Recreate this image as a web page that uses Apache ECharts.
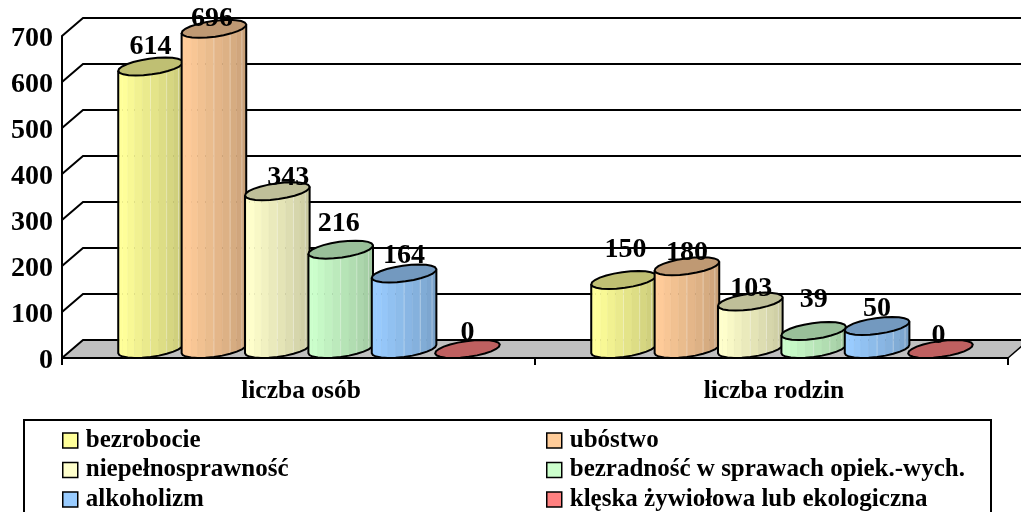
<!DOCTYPE html>
<html>
<head>
<meta charset="utf-8">
<style>html,body{margin:0;padding:0;background:#fff}#graph{width:1021px;height:512px}</style>
<script src="https://cdn.jsdelivr.net/npm/echarts@6/dist/echarts.min.js"></script>
</head>
<body>
<div id="graph"></div>
<script>
var categories = ['liczba osób', 'liczba rodzin'];
var yTicks = [0, 100, 200, 300, 400, 500, 600, 700];

var bezrobocie = [614, 150];
var ubostwo = [696, 180];
var niepelnosprawnosc = [343, 103];
var bezradnosc = [216, 39];
var alkoholizm = [164, 50];
var kleska = [0, 0];

var names = ['bezrobocie', 'ubóstwo', 'niepełnosprawność', 'bezradność w sprawach opiek.-wych.', 'alkoholizm', 'klęska żywiołowa lub ekologiczna'];
var values = [bezrobocie, ubostwo, niepelnosprawnosc, bezradnosc, alkoholizm, kleska];
var colors = ['#FFFF99', '#FFCC99', '#FFFFCC', '#CCFFCC', '#99CCFF', '#FF8080'];

// data labels were moved by hand in the original, so each one has its own nudge
var labelDx = [[0, 2], [-2, 0], [11, 1], [-2, 0], [0, 0], [0, -2]];
var labelDy = [[-21, -31], [-11, -14], [-14, -14], [-27, -32], [-19, -18], [-17, -14]];

var FONT = '"Liberation Serif", serif';
var DEPTH_X = 21, DEPTH_Y = 18;
var FACETS = 12;

function shade(hex, k) {
    var n = parseInt(hex.slice(1), 16);
    return 'rgb(' + Math.round((n >> 16 & 255) * k) + ',' + Math.round((n >> 8 & 255) * k) + ',' + Math.round((n & 255) * k) + ')';
}

function cylinder(i) {
    return function (params, api) {
        var cat = api.value(0), val = api.value(1);
        var band = api.size([1, 0])[0];
        var step = band * 0.134;
        var ux = band * 0.0605, vx = 15, vy = 9;
        var front = api.coord([cat, val]);
        var h = api.coord([cat, 0])[1] - front[1];
        var cx = front[0] + DEPTH_X / 2 + (i - 2.5) * step;
        var cy = front[1] - DEPTH_Y / 2;
        function pt(t, dy) {
            return [cx + ux * Math.cos(t) + vx * Math.sin(t), cy - vy * Math.sin(t) + (dy || 0)];
        }
        var t0 = Math.atan(vx / ux);
        var kids = [];
        if (h > 0.5) {
            var outline = [];
            for (var k = 0; k < FACETS; k++) {
                var a = t0 + Math.PI + Math.PI * k / FACETS;
                var b = t0 + Math.PI + Math.PI * (k + 1) / FACETS;
                var f = (k + 0.5) / FACETS;
                var c = shade(colors[i], 1 - 0.25 * Math.max(0, (f - 0.2) / 0.8));
                kids.push({
                    type: 'polygon',
                    shape: { points: [pt(a), pt(b), pt(b, h), pt(a, h)] },
                    style: { fill: c, stroke: c, lineWidth: 0.5 }
                });
                // the faint pale seams between the facets on the shaded side
                if (k >= 6 && k % 2 === 0) {
                    var s = pt(a), e = pt(a, h);
                    kids.push({
                        type: 'line',
                        shape: { x1: s[0], y1: s[1], x2: e[0], y2: e[1] },
                        style: { stroke: 'rgba(255,255,255,0.35)', lineWidth: 1 }
                    });
                }
            }
            outline.push(pt(t0 + Math.PI));
            for (var n = 0; n <= FACETS; n++) {
                outline.push(pt(t0 + Math.PI + Math.PI * n / FACETS, h));
            }
            outline.push(pt(t0));
            kids.push({ type: 'polyline', shape: { points: outline }, style: { fill: 'none', stroke: '#000', lineWidth: 2 } });
        }
        var top = [];
        for (var m = 0; m < 2 * FACETS; m++) {
            top.push(pt(Math.PI * m / FACETS));
        }
        kids.push({
            type: 'polygon',
            shape: { points: top },
            style: { fill: shade(colors[i], 0.75), stroke: '#000', lineWidth: 2 }
        });
        kids.push({
            type: 'text',
            style: {
                x: cx + labelDx[i][cat],
                y: cy + labelDy[i][cat] + 1,
                text: String(val),
                fill: '#000',
                font: 'bold 28px ' + FONT,
                align: 'center',
                verticalAlign: 'middle'
            }
        });
        return { type: 'group', children: kids };
    };
}

var chart = echarts.init(document.getElementById('graph'));

var series = [{
    // back wall grid lines, with the floor under the 0 line
    type: 'custom',
    z: -1,
    silent: true,
    data: yTicks.map(function (v) { return [0, v]; }),
    renderItem: function (params, api) {
        var cs = params.coordSys;
        var y = api.coord([0, api.value(1)])[1];
        var x0 = cs.x, x1 = cs.x + cs.width;
        var kids = [];
        if (api.value(1) === 0) {
            kids.push({
                type: 'polygon',
                shape: { points: [[x0, y], [x1, y], [x1 + DEPTH_X, y - DEPTH_Y], [x0 + DEPTH_X, y - DEPTH_Y]] },
                style: { fill: '#C0C0C0' }
            });
            kids.push({
                type: 'line',
                shape: { x1: x1, y1: y, x2: x1 + DEPTH_X, y2: y - DEPTH_Y },
                style: { stroke: '#000', lineWidth: 1.5 }
            });
        }
        kids.push({
            type: 'polyline',
            shape: { points: [[x0, y], [x0 + DEPTH_X, y - DEPTH_Y], [x1 + DEPTH_X, y - DEPTH_Y]] },
            style: { fill: 'none', stroke: '#000', lineWidth: 2 }
        });
        return { type: 'group', children: kids };
    }
}];

names.forEach(function (name, i) {
    series.push({
        type: 'custom',
        name: name,
        z: 2 + i,
        silent: true,
        itemStyle: { color: colors[i] },
        encode: { x: 0, y: 1 },
        data: values[i].map(function (v, c) { return [c, v]; }),
        renderItem: cylinder(i)
    });
});

function legendColumn(left, items) {
    return {
        orient: 'vertical',
        left: left,
        top: 428,
        height: 120,
        padding: 0,
        itemWidth: 15,
        itemHeight: 15,
        itemGap: 4.5,
        icon: 'rect',
        selectedMode: false,
        data: items,
        itemStyle: { borderColor: '#000', borderWidth: 1.5 },
        textStyle: { fontFamily: FONT, fontWeight: 'bold', fontSize: 25, color: '#000', padding: [0, 0, 0, 3] }
    };
}

chart.setOption({
    animation: false,
    backgroundColor: '#fff',
    grid: { left: 62, right: 13, top: 36, height: 322 },
    xAxis: {
        type: 'category',
        data: categories,
        axisLine: { lineStyle: { color: '#000', width: 2 } },
        axisTick: { show: true, length: 7, lineStyle: { color: '#000', width: 2 } },
        axisLabel: { color: '#000', fontFamily: FONT, fontWeight: 'bold', fontSize: 25.5, margin: 20, padding: [0, 0, 0, 5] }
    },
    yAxis: {
        type: 'value',
        min: 0,
        max: 700,
        interval: 100,
        splitLine: { show: false },
        axisLine: { show: true, lineStyle: { color: '#000', width: 2 } },
        axisTick: { show: false },
        axisLabel: { color: '#000', fontFamily: FONT, fontWeight: 'bold', fontSize: 28, margin: 9, verticalAlign: 'top', lineHeight: 6 }
    },
    legend: [
        legendColumn(62, [names[0], names[2], names[4]]),
        legendColumn(546, [names[1], names[3], names[5]])
    ],
    graphic: [{
        type: 'rect',
        z: -5,
        shape: { x: 24, y: 420, width: 967, height: 110 },
        style: { fill: '#fff', stroke: '#000', lineWidth: 2 }
    }],
    series: series
});
</script>
</body>
</html>
